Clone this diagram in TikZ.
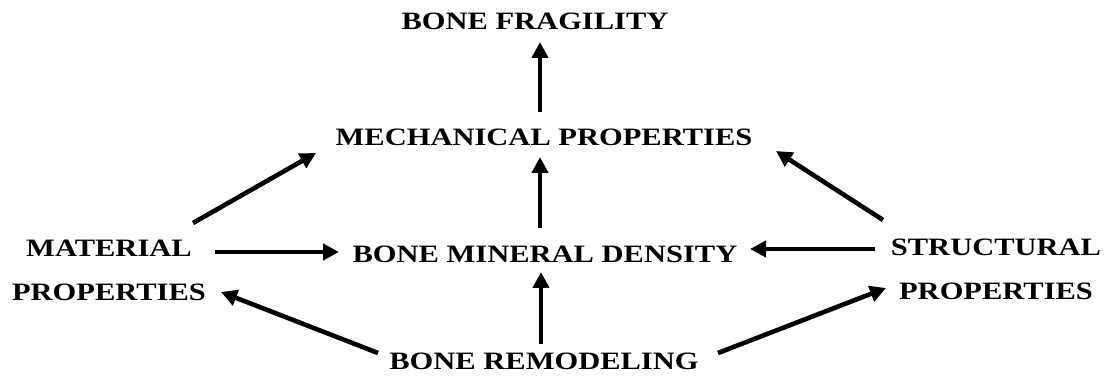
\documentclass[tikz,border=0pt]{standalone}
\usepackage{fontspec}
\setmainfont{Liberation Serif}
\newfontfamily\widefont[FakeStretch=1.22]{Liberation Serif Bold}
\usetikzlibrary{arrows.meta}
\begin{document}
\begin{tikzpicture}[x=1pt,y=-1pt,
  lbl/.style={font=\widefont\fontsize{25}{44}\selectfont, inner sep=0pt, align=center},
  arr/.style={line width=4.6pt, -{Triangle[length=16pt,width=16pt]}}]
\useasboundingbox (0,0) rectangle (1109,379);
\node[lbl] (frag) at (535,21) {BONE FRAGILITY};
\node[lbl] (mech) at (544,137) {MECHANICAL PROPERTIES};
\node[lbl] (bmd) at (545,254) {BONE MINERAL DENSITY};
\node[lbl] (mat) at (109,270) {MATERIAL\\PROPERTIES};
\node[lbl] (str) at (996,269) {STRUCTURAL\\PROPERTIES};
\node[lbl] (rem) at (544,361) {BONE REMODELING};
\coordinate (a1) at (540,112); \coordinate (a1e) at (540,42);
\coordinate (a2) at (540,228); \coordinate (a2e) at (540,157);
\coordinate (a3) at (541,344); \coordinate (a3e) at (541,272);
\coordinate (a4) at (215,252); \coordinate (a4e) at (339,252);
\coordinate (a5) at (875,249); \coordinate (a5e) at (750,249);
\coordinate (a6) at (193,223); \coordinate (a6e) at (316,153);
\coordinate (a7) at (883,220); \coordinate (a7e) at (776,151);
\coordinate (a8) at (378,353); \coordinate (a8e) at (221,292);
\coordinate (a9) at (718,353); \coordinate (a9e) at (886,288);
\foreach \s/\e in {a1/a1e,a2/a2e,a3/a3e,a4/a4e,a5/a5e,a6/a6e,a7/a7e,a8/a8e,a9/a9e}
  \draw[arr] (\s) -- (\e);
\end{tikzpicture}
\end{document}
